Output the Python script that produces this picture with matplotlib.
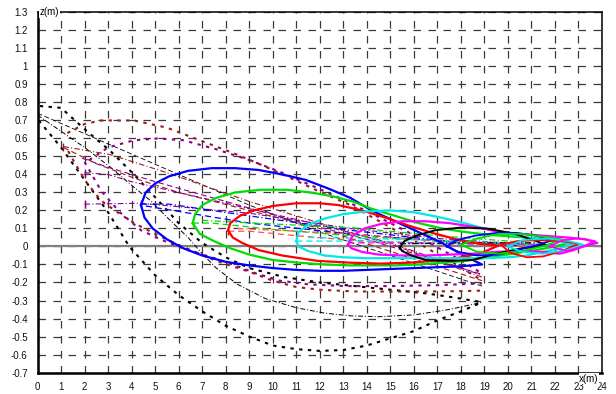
import matplotlib
matplotlib.use('Agg')
import matplotlib.pyplot as plt

# ---------------- axis ticks ----------------
x_ticks = list(range(0, 25))
x_tick_labels = [str(v) for v in x_ticks]
z_ticks = [-0.7, -0.6, -0.5, -0.4, -0.3, -0.2, -0.1, 0.0, 0.1, 0.2, 0.3,
           0.4, 0.5, 0.6, 0.7, 0.8, 0.9, 1.0, 1.1, 1.2, 1.3]
z_tick_labels = ['-0.7', '-0.6', '-0.5', '-0.4', '-0.3', '-0.2', '-0.1', '0',
                 '0.1', '0.2', '0.3', '0.4', '0.5', '0.6', '0.7', '0.8', '0.9',
                 '1', '1.1', '1.2', '1.3']

# ---------------- closed loops (solid) ----------------
blue_big_x = [4.4, 4.6, 5.0, 5.6, 6.4, 7.4, 8.4, 9.4, 10.4, 11.4, 12.4, 13.3, 14.2, 15.2,
              16.2, 17.2, 18.1, 18.9, 18.0, 17.0, 16.0, 15.0, 14.0, 13.0, 12.0, 11.0,
              10.0, 9.0, 8.0, 7.0, 6.2, 5.5, 4.9, 4.55, 4.4]
blue_big_z = [0.23, 0.30, 0.35, 0.39, 0.42, 0.435, 0.435, 0.425, 0.40, 0.37, 0.32, 0.27,
              0.20, 0.14, 0.08, 0.02, -0.05, -0.10, -0.11, -0.115, -0.12, -0.125, -0.13,
              -0.135, -0.135, -0.13, -0.12, -0.105, -0.085, -0.05, -0.01, 0.04, 0.10,
              0.16, 0.23]

green_big_x = [6.6, 6.7, 7.0, 7.6, 8.4, 9.5, 10.6, 11.6, 12.5, 13.4, 14.2, 15.2, 16.2,
               17.2, 18.2, 19.2, 20.2, 21.2, 22.0, 22.6, 22.0, 21.2, 20.2, 19.2, 18.2,
               17.2, 16.2, 15.2, 14.2, 13.3, 12.2, 11.1, 10.0, 9.0, 8.2, 7.5, 6.9, 6.6]
green_big_z = [0.13, 0.18, 0.23, 0.27, 0.30, 0.315, 0.315, 0.30, 0.28, 0.25, 0.21, 0.17,
               0.13, 0.10, 0.08, 0.065, 0.055, 0.045, 0.035, 0.02, 0.0, -0.02, -0.04,
               -0.06, -0.08, -0.09, -0.10, -0.105, -0.105, -0.105, -0.10, -0.09, -0.075,
               -0.045, -0.01, 0.03, 0.07, 0.13]

red_big_x = [8.1, 8.2, 8.6, 9.2, 10.0, 11.0, 12.0, 12.8, 13.8, 14.8, 15.8, 16.8, 17.8,
             18.8, 19.6, 18.8, 17.8, 16.8, 15.8, 14.6, 13.3, 11.9, 10.4, 9.4, 8.7, 8.3, 8.1]
red_big_z = [0.09, 0.13, 0.17, 0.20, 0.225, 0.24, 0.24, 0.23, 0.20, 0.16, 0.115, 0.075,
             0.04, 0.015, 0.005, -0.04, -0.065, -0.08, -0.09, -0.095, -0.09, -0.08,
             -0.05, -0.02, 0.02, 0.05, 0.09]

red_small_x = [19.7, 20.1, 20.8, 21.5, 22.3, 23.0, 22.3, 21.3, 20.4, 19.7]
red_small_z = [0.01, -0.035, -0.06, -0.055, -0.025, 0.015, 0.03, 0.035, 0.03, 0.01]

cyan_big_x = [11.0, 11.1, 11.5, 12.2, 13.0, 14.0, 15.0, 16.0, 17.0, 18.0, 19.0, 20.0,
              21.0, 22.0, 22.8, 22.2, 21.5, 20.8, 20.0, 19.0, 18.0, 17.0, 16.0, 15.0,
              14.0, 13.0, 12.2, 11.5, 11.1, 11.0]
cyan_big_z = [0.03, 0.08, 0.12, 0.155, 0.18, 0.195, 0.20, 0.19, 0.165, 0.135, 0.10, 0.07,
              0.045, 0.03, 0.015, -0.01, -0.03, -0.05, -0.06, -0.065, -0.065, -0.065,
              -0.065, -0.065, -0.065, -0.06, -0.05, -0.025, 0.0, 0.03]

magenta_big_x = [13.2, 13.4, 13.9, 14.6, 15.5, 16.5, 17.5, 18.5, 19.5, 20.5, 21.5, 22.5,
                 23.3, 23.8, 23.3, 22.8, 22.2, 21.5, 20.5, 19.5, 18.5, 17.5, 16.5, 15.5,
                 14.5, 13.8, 13.35, 13.2]
magenta_big_z = [0.01, 0.06, 0.10, 0.125, 0.14, 0.14, 0.13, 0.11, 0.085, 0.07, 0.06, 0.05,
                 0.04, 0.02, 0.005, -0.02, -0.04, -0.03, -0.025, -0.03, -0.04, -0.045,
                 -0.05, -0.05, -0.045, -0.03, -0.01, 0.01]

black_loop_x = [15.4, 15.6, 16.1, 16.9, 18.0, 19.1, 20.3, 21.2, 21.6, 21.0, 20.6, 19.5,
                18.5, 17.5, 16.5, 15.9, 15.5, 15.4]
black_loop_z = [-0.005, 0.03, 0.06, 0.09, 0.105, 0.10, 0.07, 0.03, 0.01, -0.005, -0.01,
                -0.04, -0.075, -0.08, -0.075, -0.05, -0.025, -0.005]

blue_small_x = [17.4, 17.8, 18.6, 19.5, 20.4, 21.2, 21.9, 21.3, 20.4, 19.6, 18.7, 17.9, 17.4]
blue_small_z = [0.0, 0.035, 0.06, 0.075, 0.075, 0.06, 0.035, 0.01, -0.02, -0.045, -0.05,
                -0.03, 0.0]

green_small_x = [18.0, 18.7, 19.6, 20.6, 21.5, 22.3, 21.6, 20.6, 19.6, 18.7, 18.0]
green_small_z = [0.01, 0.045, 0.07, 0.07, 0.055, 0.04, 0.005, -0.025, -0.04, -0.03, 0.01]

cyan_small_x = [20.0, 20.6, 21.6, 22.6, 23.2, 22.5, 21.5, 20.6, 20.0]
cyan_small_z = [0.0, 0.035, 0.045, 0.03, 0.01, -0.02, -0.04, -0.03, 0.0]

magenta_small_x = [21.8, 22.3, 23.0, 23.7, 23.2, 22.5, 21.8]
magenta_small_z = [0.0, 0.035, 0.045, 0.03, 0.0, -0.025, 0.0]

# ---------------- centre lines of the loops (thin dashed) ----------------
blue_dd_x = [4.4, 5.6, 9.0, 13.3, 17.0, 20.5]
blue_dd_z = [0.235, 0.235, 0.17, 0.09, 0.035, 0.01]
blue_d_x = [4.6, 9.0, 13.3, 17.0, 20.5]
blue_d_z = [0.225, 0.13, 0.07, 0.03, 0.005]
green_d_x = [6.6, 7.4, 10.0, 13.3, 17.0, 21.0]
green_d_z = [0.13, 0.13, 0.095, 0.06, 0.03, 0.01]
green_dd_x = [7.0, 10.0, 13.3, 17.0, 21.0]
green_dd_z = [0.145, 0.125, 0.105, 0.06, 0.02]
red_d_x = [8.1, 9.0, 11.0, 13.3, 17.0, 21.5]
red_d_z = [0.085, 0.085, 0.06, 0.035, 0.015, 0.0]
red_dd_x = [8.5, 11.0, 13.3, 17.0, 21.5]
red_dd_z = [0.10, 0.085, 0.07, 0.03, 0.005]
cyan_d_x = [11.0, 14.0, 18.0, 22.0]
cyan_d_z = [0.03, 0.03, 0.015, 0.005]
cyan_dd_x = [11.5, 14.0, 18.0, 22.0]
cyan_dd_z = [0.05, 0.045, 0.03, 0.01]
magenta_d_x = [13.2, 16.0, 19.0, 22.5]
magenta_d_z = [0.02, 0.02, 0.015, 0.01]
black_dd_x = [15.4, 18.0, 21.2]
black_dd_z = [0.015, 0.02, 0.02]

# ---------------- dark red / purple trajectories ----------------
dr_dot_up_x = [1.27, 2.0, 2.7, 4.1, 5.5, 6.9, 8.3, 9.4, 10.6, 11.9, 13.3, 14.4, 15.5,
               16.7, 17.8, 18.9]
dr_dot_up_z = [0.63, 0.68, 0.70, 0.70, 0.66, 0.59, 0.52, 0.46, 0.39, 0.31, 0.23, 0.15,
               0.07, -0.02, -0.10, -0.19]
pu_dot_up_x = [2.2, 3.0, 4.1, 5.1, 6.2, 7.6, 9.0, 10.4, 11.8, 13.0, 14.4, 15.6, 16.8,
               17.9, 18.9]
pu_dot_up_z = [0.48, 0.55, 0.59, 0.60, 0.59, 0.54, 0.48, 0.41, 0.33, 0.26, 0.17, 0.09,
               0.01, -0.07, -0.15]
dr_dot_low_x = [1.3, 2.0, 2.7, 3.4, 4.1, 5.0, 5.8, 6.7, 7.6, 8.3, 9.0, 10.0, 11.0, 12.0,
                13.5, 15.0, 16.5, 18.0, 18.9]
dr_dot_low_z = [0.53, 0.37, 0.255, 0.19, 0.13, 0.07, 0.02, -0.03, -0.08, -0.11, -0.14,
                -0.19, -0.225, -0.24, -0.25, -0.25, -0.25, -0.248, -0.245]
pu_dot_low_x = [2.0, 2.7, 3.5, 4.4, 5.4, 6.4, 7.4, 8.3, 9.3, 10.3, 11.5, 13.1, 15.0,
                17.0, 18.9]
pu_dot_low_z = [0.47, 0.31, 0.19, 0.09, 0.03, -0.02, -0.06, -0.10, -0.15, -0.19, -0.21,
                -0.22, -0.22, -0.215, -0.205]
dr_dd_x = [1.1, 3.1, 5.5, 9.0, 12.0, 15.3, 18.9]
dr_dd_z = [0.555, 0.51, 0.41, 0.25, 0.13, 0.0, -0.17]
dr_d_x = [1.1, 2.5, 4.1, 6.0, 9.0, 12.0, 15.3, 18.9]
dr_d_z = [0.55, 0.46, 0.38, 0.30, 0.20, 0.10, -0.04, -0.19]
pu_dd_x = [2.0, 3.0, 4.0, 6.0, 9.0, 12.0, 15.0, 18.9]
pu_dd_z = [0.41, 0.40, 0.36, 0.30, 0.21, 0.12, 0.02, -0.16]
pu_dd2_x = [2.0, 4.4, 9.0, 13.3, 17.0, 20.5]
pu_dd2_z = [0.235, 0.24, 0.185, 0.10, 0.045, 0.015]
pu_d_x = [1.9, 3.0, 5.0, 8.0, 11.0, 14.0, 17.0, 18.9]
pu_d_z = [0.49, 0.44, 0.36, 0.25, 0.14, 0.04, -0.08, -0.155]

# ---------------- black trajectories ----------------
bk_dot1_x = [0.1, 1.0, 2.1, 3.1, 4.1, 5.1, 6.0, 7.0, 8.0, 9.0, 10.5, 12.0, 13.5, 15.0,
             16.5, 17.8, 18.9]
bk_dot1_z = [0.78, 0.77, 0.64, 0.53, 0.40, 0.26, 0.13, 0.02, -0.06, -0.12, -0.17, -0.20,
             -0.22, -0.24, -0.26, -0.285, -0.31]
bk_dot2_x = [0.05, 1.0, 2.0, 3.0, 3.9, 5.0, 6.0, 7.0, 8.0, 9.0, 10.0, 11.0, 12.0, 13.0,
             14.0, 15.0, 16.0, 17.0, 18.0, 18.9]
bk_dot2_z = [0.70, 0.55, 0.37, 0.19, 0.0, -0.16, -0.27, -0.36, -0.44, -0.50, -0.55,
             -0.57, -0.58, -0.575, -0.55, -0.51, -0.47, -0.41, -0.36, -0.31]
bk_dd_x = [0.0, 1.0, 2.0, 3.1, 4.0, 4.8, 5.6, 6.4, 7.0, 7.6, 8.5, 9.7, 11.0, 12.2, 13.3,
           14.5, 16.0, 17.5, 18.9]
bk_dd_z = [0.73, 0.64, 0.55, 0.44, 0.34, 0.255, 0.15, 0.05, -0.04, -0.12, -0.21, -0.29,
           -0.34, -0.37, -0.385, -0.39, -0.38, -0.35, -0.31]
bk_d_x = [0.0, 3.0, 6.0, 9.0, 12.0, 15.0, 18.9]
bk_d_z = [0.74, 0.57, 0.40, 0.23, 0.08, -0.05, -0.22]

# ---------------- colours ----------------
BLUE, GREEN, RED = '#0000FF', '#00DD00', '#FF0000'
CYAN, MAGENTA, BLACK = '#00E8E8', '#FF00FF', '#000000'
DRED, PURPLE = '#9B1C1C', '#8B008B'

plt.rcParams['font.family'] = ['Liberation Sans', 'DejaVu Sans']

fig = plt.figure(figsize=(6.16, 3.94), dpi=100)
ax = fig.add_axes([0.0609, 0.0545, 0.9164, 0.9140])
ax.set_xlim(0, 24)
ax.set_ylim(-0.7, 1.3)
ax.set_xticks(x_ticks)
ax.set_xticklabels(x_tick_labels)
ax.set_yticks(z_ticks)
ax.set_yticklabels(z_tick_labels)
ax.tick_params(axis='both', length=0, labelsize=7, colors='#111111')
ax.tick_params(axis='y', pad=7)
ax.tick_params(axis='x', pad=7)

ax.grid(True, color='#3a3a3a', linestyle=(0, (6, 6)), linewidth=0.9, zorder=0)
ax.set_axisbelow(True)
ax.axhline(0, color='#808080', linewidth=1.6, zorder=1)

for side in ['left', 'bottom']:
    ax.spines[side].set_linewidth(1.8)
for side in ['right', 'top']:
    ax.spines[side].set_linewidth(1.1)

dot = (0, (1.6, 2.6))
# trajectories (dotted / dashed)
ax.plot(bk_dot1_x, bk_dot1_z, color=BLACK, lw=1.5, ls=dot, zorder=2)
ax.plot(bk_dot2_x, bk_dot2_z, color=BLACK, lw=1.5, ls=dot, zorder=2)
ax.plot(bk_dd_x, bk_dd_z, color=BLACK, lw=0.7, ls=(0, (5, 2, 1, 2)), zorder=2)
ax.plot(bk_d_x, bk_d_z, color=BLACK, lw=0.6, ls=(0, (6, 3)), zorder=2)

ax.plot(dr_dot_up_x, dr_dot_up_z, color=DRED, lw=1.5, ls=dot, zorder=2)
ax.plot(pu_dot_up_x, pu_dot_up_z, color=PURPLE, lw=1.5, ls=dot, zorder=2)
ax.plot(dr_dot_low_x, dr_dot_low_z, color=DRED, lw=1.5, ls=dot, zorder=2)
ax.plot(pu_dot_low_x, pu_dot_low_z, color=PURPLE, lw=1.5, ls=dot, zorder=2)
ax.plot(dr_dd_x, dr_dd_z, color=DRED, lw=0.8, ls=(0, (5, 2, 1, 2)), zorder=2)
ax.plot(dr_d_x, dr_d_z, color=DRED, lw=0.8, ls=(0, (5, 3)), zorder=2)
ax.plot(pu_dd_x, pu_dd_z, color=PURPLE, lw=0.8, ls=(0, (5, 2, 1, 2)), zorder=2)
ax.plot(pu_dd2_x, pu_dd2_z, color=PURPLE, lw=0.8, ls=(0, (5, 2, 1, 2)), zorder=2)
ax.plot(pu_d_x, pu_d_z, color=PURPLE, lw=0.8, ls=(0, (5, 3)), zorder=2)

# start markers
ax.plot([dr_dd_x[0]], [dr_dd_z[0]], marker='|', color=DRED, ms=6, mew=1, zorder=3)
ax.plot([pu_dd_x[0]], [pu_dd_z[0]], marker='|', color=PURPLE, ms=6, mew=1, zorder=3)
ax.plot([pu_dd2_x[0]], [pu_dd2_z[0]], marker='|', color=PURPLE, ms=6, mew=1, zorder=3)
ax.plot([blue_dd_x[0]], [blue_dd_z[0]], marker='|', color=BLUE, ms=6, mew=1, zorder=3)
ax.plot([green_d_x[0]], [green_d_z[0]], marker='|', color=GREEN, ms=6, mew=1, zorder=3)
ax.plot([red_d_x[0]], [red_d_z[0]], marker='|', color=RED, ms=6, mew=1, zorder=3)

# centre lines
ax.plot(blue_dd_x, blue_dd_z, color=BLUE, lw=0.9, ls=(0, (5, 2, 1, 2)), zorder=3)
ax.plot(blue_d_x, blue_d_z, color=BLUE, lw=0.9, ls=(0, (5, 3)), zorder=3)
ax.plot(green_d_x, green_d_z, color=GREEN, lw=0.9, ls=(0, (5, 3)), zorder=3)
ax.plot(green_dd_x, green_dd_z, color=GREEN, lw=0.9, ls=(0, (5, 2, 1, 2)), zorder=3)
ax.plot(red_d_x, red_d_z, color='#FF5050', lw=0.9, ls=(0, (5, 3)), zorder=3)
ax.plot(red_dd_x, red_dd_z, color='#FF5050', lw=0.9, ls=(0, (5, 2, 1, 2)), zorder=3)
ax.plot(cyan_d_x, cyan_d_z, color=CYAN, lw=0.9, ls=(0, (5, 3)), zorder=3)
ax.plot(cyan_dd_x, cyan_dd_z, color=CYAN, lw=0.9, ls=(0, (5, 2, 1, 2)), zorder=3)
ax.plot(magenta_d_x, magenta_d_z, color=MAGENTA, lw=0.9, ls=(0, (5, 3)), zorder=3)
ax.plot(black_dd_x, black_dd_z, color=BLACK, lw=0.9, ls=(0, (5, 2, 1, 2)), zorder=3)

# solid loops
ax.plot(blue_big_x, blue_big_z, color=BLUE, lw=1.6, zorder=4)
ax.plot(green_big_x, green_big_z, color=GREEN, lw=1.6, zorder=4)
ax.plot(red_big_x, red_big_z, color=RED, lw=1.6, zorder=4)
ax.plot(cyan_big_x, cyan_big_z, color=CYAN, lw=1.6, zorder=4)
ax.plot(magenta_big_x, magenta_big_z, color=MAGENTA, lw=1.6, zorder=4)
ax.plot(black_loop_x, black_loop_z, color=BLACK, lw=1.4, zorder=4)
ax.plot(blue_small_x, blue_small_z, color=BLUE, lw=1.3, zorder=4)
ax.plot(green_small_x, green_small_z, color=GREEN, lw=1.3, zorder=4)
ax.plot(red_small_x, red_small_z, color=RED, lw=1.3, zorder=4)
ax.plot(cyan_small_x, cyan_small_z, color=CYAN, lw=1.3, zorder=4)
ax.plot(magenta_small_x, magenta_small_z, color=MAGENTA, lw=1.3, zorder=4)

# axis titles
ax.text(0.0045, 1.0, 'z(m)', transform=ax.transAxes, ha='left', va='center',
        fontsize=7, zorder=10, clip_on=False,
        bbox=dict(facecolor='white', edgecolor='none', pad=0.6))
ax.text(23.45, -0.735, 'x(m)', ha='center', va='center', fontsize=7, zorder=10,
        clip_on=False, bbox=dict(facecolor='white', edgecolor='none', pad=0.3))

fig.savefig('out.png', dpi=100)
